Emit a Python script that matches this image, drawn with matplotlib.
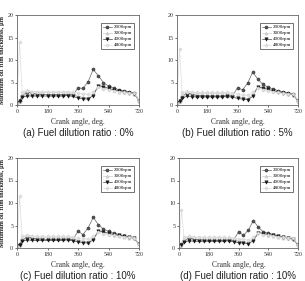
import matplotlib
matplotlib.use("Agg")
import matplotlib.pyplot as plt

crank = [0, 15, 30, 60, 90, 120, 150, 180, 210, 240, 270, 300, 330, 360, 390, 420, 450, 480, 510, 540, 570, 600, 630, 660, 690, 720]
labels = ["2000rpm", "3000rpm", "4000rpm", "4800rpm"]
captions = ["(a) Fuel dilution ratio : 0%", "(b) Fuel dilution ratio : 5%",
            "(c) Fuel dilution ratio : 10%", "(d) Fuel dilution ratio : 10%"]
xticks = [0, 180, 360, 540, 720]
yticks = [0, 5, 10, 15, 20]

a_2000 = [0.5, 1.0, 2.0, 2.9, 2.6, 2.4, 2.4, 2.3, 2.3, 2.3, 2.3, 2.4, 2.2, 3.8, 3.7, 5.2, 7.9, 6.5, 5.0, 4.2, 3.8, 3.4, 3.1, 2.9, 2.7, 1.0]
a_3000 = [0.5, 0.8, 2.5, 3.3, 3.0, 2.8, 2.8, 2.8, 2.8, 2.8, 2.8, 2.8, 2.5, 1.9, 1.7, 1.5, 2.5, 4.3, 3.8, 3.5, 3.3, 3.0, 2.8, 2.6, 2.5, 1.0]
a_4000 = [0.5, 0.8, 1.8, 2.0, 2.0, 2.0, 2.0, 2.0, 2.0, 2.0, 2.0, 2.1, 1.9, 1.6, 1.4, 1.3, 2.1, 4.3, 4.1, 3.7, 3.4, 3.1, 2.9, 2.7, 2.5, 1.0]
a_4800 = [0.5, 14.0, 3.0, 3.2, 3.0, 3.0, 3.0, 3.0, 3.0, 3.0, 3.0, 3.0, 2.8, 2.6, 2.5, 2.4, 3.0, 4.0, 3.6, 3.4, 3.2, 3.0, 2.8, 2.7, 2.6, 1.0]

b_2000 = [0.5, 1.0, 1.8, 2.7, 2.4, 2.1, 2.1, 2.0, 2.0, 2.0, 2.0, 2.1, 2.0, 3.8, 3.4, 4.8, 7.3, 5.8, 4.6, 4.0, 3.6, 3.2, 2.9, 2.7, 2.5, 0.9]
b_3000 = [0.5, 0.8, 2.4, 3.1, 2.8, 2.6, 2.6, 2.6, 2.6, 2.6, 2.6, 2.6, 2.3, 1.8, 1.6, 1.4, 2.3, 4.0, 3.6, 3.3, 3.1, 2.8, 2.6, 2.5, 2.3, 0.9]
b_4000 = [0.5, 0.8, 1.6, 1.9, 1.8, 1.8, 1.8, 1.8, 1.8, 1.8, 1.8, 1.9, 1.7, 1.5, 1.3, 1.2, 1.9, 4.0, 3.8, 3.5, 3.2, 2.9, 2.7, 2.5, 2.3, 0.9]
b_4800 = [0.5, 12.5, 2.8, 3.0, 2.8, 2.8, 2.8, 2.8, 2.8, 2.8, 2.8, 2.8, 2.6, 2.4, 2.3, 2.2, 2.8, 3.8, 3.4, 3.2, 3.0, 2.8, 2.6, 2.5, 2.4, 0.9]

c_2000 = [0.4, 0.9, 1.7, 2.5, 2.2, 2.0, 2.0, 1.9, 1.9, 1.9, 1.9, 2.0, 1.9, 3.7, 3.0, 4.5, 6.8, 5.2, 4.2, 3.7, 3.3, 3.0, 2.7, 2.5, 2.3, 0.8]
c_3000 = [0.4, 0.7, 2.3, 2.9, 2.6, 2.4, 2.4, 2.4, 2.4, 2.4, 2.4, 2.4, 2.2, 1.7, 1.5, 1.3, 2.2, 3.8, 3.4, 3.1, 2.9, 2.6, 2.5, 2.3, 2.2, 0.8]
c_4000 = [0.4, 0.7, 1.5, 1.8, 1.7, 1.7, 1.7, 1.7, 1.7, 1.7, 1.7, 1.8, 1.6, 1.4, 1.2, 1.1, 1.8, 3.8, 3.6, 3.3, 3.0, 2.8, 2.6, 2.4, 2.2, 0.8]
c_4800 = [0.4, 11.5, 2.6, 2.8, 2.6, 2.6, 2.6, 2.6, 2.6, 2.6, 2.6, 2.6, 2.4, 2.2, 2.1, 2.0, 2.6, 3.6, 3.2, 3.0, 2.8, 2.6, 2.5, 2.4, 2.3, 0.8]

d_2000 = [0.4, 0.8, 1.5, 2.3, 2.0, 1.8, 1.8, 1.7, 1.7, 1.7, 1.7, 1.8, 1.7, 3.6, 2.8, 4.0, 6.1, 4.6, 3.6, 3.3, 3.0, 2.7, 2.5, 2.3, 2.1, 0.7]
d_3000 = [0.4, 0.7, 2.1, 2.6, 2.4, 2.2, 2.2, 2.2, 2.2, 2.2, 2.2, 2.2, 2.0, 1.6, 1.4, 1.2, 2.0, 3.5, 3.1, 2.9, 2.7, 2.5, 2.3, 2.2, 2.0, 0.7]
d_4000 = [0.4, 0.6, 1.3, 1.6, 1.5, 1.5, 1.5, 1.5, 1.5, 1.5, 1.5, 1.6, 1.4, 1.2, 1.1, 1.0, 1.6, 3.4, 3.2, 3.0, 2.8, 2.6, 2.4, 2.2, 2.0, 0.7]
d_4800 = [0.4, 8.5, 2.4, 2.6, 2.4, 2.4, 2.4, 2.4, 2.4, 2.4, 2.4, 2.4, 2.2, 2.0, 1.9, 1.8, 2.4, 3.3, 3.0, 2.8, 2.7, 2.5, 2.4, 2.3, 2.2, 0.7]

panels = [
    [a_2000, a_3000, a_4000, a_4800],
    [b_2000, b_3000, b_4000, b_4800],
    [c_2000, c_3000, c_4000, c_4800],
    [d_2000, d_3000, d_4000, d_4800],
]

W, H = 305, 281
fig = plt.figure(figsize=(W / 100, H / 100), dpi=100)
fig.patch.set_facecolor("white")

# axes boxes in pixels: left, top, right, bottom
boxes = [(17, 15, 139, 105), (177, 15, 298, 105), (17, 158, 139, 248), (179, 158, 298, 248)]

styles = [
    dict(color="#666666", marker="o", mfc="#555555", mec="#333333", ms=2.2, lw=0.5, mew=0.4),
    dict(color="#cccccc", marker="^", mfc="#d4d4d4", mec="#c4c4c4", ms=2.2, lw=0.5, mew=0.4),
    dict(color="#444444", marker="v", mfc="#1a1a1a", mec="#1a1a1a", ms=2.4, lw=0.5, mew=0.4),
    dict(color="#dddddd", marker="D", mfc="#e0e0e0", mec="#d4d4d4", ms=1.7, lw=0.5, mew=0.4),
]

serif = "Liberation Serif"
for i, (box, series) in enumerate(zip(boxes, panels)):
    l, t, r, b = box
    ax = fig.add_axes([l / W, 1 - b / H, (r - l) / W, (b - t) / H])
    for vals, lab, st in zip(series, labels, styles):
        ax.plot(crank, vals, label=lab, **st)
    ax.set_xlim(0, 720)
    ax.set_ylim(0, 20)
    ax.set_xticks(xticks)
    ax.set_yticks(yticks)
    ax.tick_params(labelsize=4.3, length=1.5, width=0.5, pad=1.2, colors="#333333")
    for lbl in ax.get_xticklabels() + ax.get_yticklabels():
        lbl.set_family(serif)
    for s in ax.spines.values():
        s.set_linewidth(0.6)
        s.set_color("#666666")
    ax.set_xlabel("Crank angle, deg.", fontsize=5.5, family=serif, labelpad=3, color="#333333")
    ax.set_ylabel("Minimum oil film thickness, \u03bcm", fontsize=4.9, family=serif, color="#333333")
    ax.yaxis.set_label_coords(-(l - 5) / (r - l), 0.5)
    leg = ax.legend(loc="upper right", prop={"family": serif, "size": 3.6},
                    frameon=True, fancybox=False, edgecolor="#333333", borderpad=0.35,
                    handlelength=1.8, handletextpad=0.4, labelspacing=0.3,
                    bbox_to_anchor=(0.955, 0.91), borderaxespad=0)
    leg.get_frame().set_linewidth(0.6)
    cx = (l + r) / 2 / W
    cy = 1 - (b + 28) / H
    fig.text(cx, cy, captions[i], ha="center", va="center", fontsize=7, family="Liberation Sans", color="#222222")

fig.savefig("out.png", dpi=100, facecolor="white")
